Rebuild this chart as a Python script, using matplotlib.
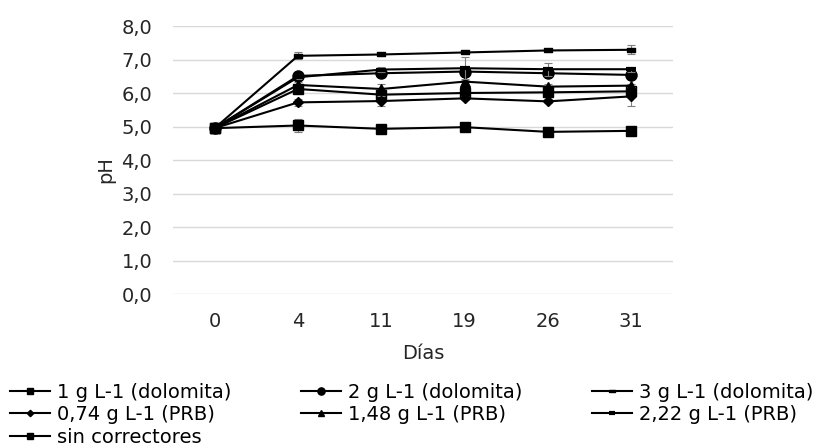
import matplotlib.pyplot as plt
import numpy as np

plt.rcParams['font.family'] = ['DejaVu Sans']

dias = ['0', '4', '11', '19', '26', '31']

dolomita_1 = [4.95, 6.12, 5.95, 6.00, 6.02, 6.05]
dolomita_2 = [4.95, 6.51, 6.59, 6.64, 6.59, 6.54]
dolomita_3 = [4.95, 7.11, 7.15, 7.21, 7.27, 7.29]
prb_074 = [4.95, 5.72, 5.76, 5.84, 5.75, 5.90]
prb_148 = [4.95, 6.24, 6.12, 6.34, 6.19, 6.22]
prb_222 = [4.95, 6.47, 6.70, 6.74, 6.71, 6.71]
sin_corr = [4.95, 5.03, 4.93, 4.98, 4.84, 4.87]

err_dol_1 = [0.03, 0.08, 0.06, 0.05, 0.05, 0.06]
err_dol_2 = [0.03, 0.08, 0.10, 0.10, 0.08, 0.08]
err_dol_3 = [0.03, 0.10, 0.05, 0.03, 0.04, 0.13]
err_074 = [0.03, 0.11, 0.14, 0.06, 0.06, 0.28]
err_148 = [0.03, 0.08, 0.14, 0.06, 0.08, 0.06]
err_222 = [0.03, 0.06, 0.08, 0.33, 0.20, 0.08]
err_sin = [0.03, 0.20, 0.05, 0.04, 0.05, 0.04]

# small flat bar used as marker for 3 g L-1 (dolomita)
flat = [(-1, -0.45), (1, -0.45), (1, 0.45), (-1, 0.45), (-1, -0.45)]

# name, values, errors, marker, size
series = [
    ('1 g L-1 (dolomita)', dolomita_1, err_dol_1, 's', 6.5),
    ('2 g L-1 (dolomita)', dolomita_2, err_dol_2, 'o', 8),
    ('3 g L-1 (dolomita)', dolomita_3, err_dol_3, flat, 6),
    ('0,74 g L-1 (PRB)', prb_074, err_074, 'D', 5),
    ('1,48 g L-1 (PRB)', prb_148, err_148, '^', 7.5),
    ('2,22 g L-1 (PRB)', prb_222, err_222, '_', 7),
    ('sin correctores', sin_corr, err_sin, 's', 7),
]

fig = plt.figure(figsize=(8.21, 4.46), dpi=100)
ax = fig.add_axes([0.2107, 0.3408, 0.609, 0.6009])

x = np.arange(len(dias))
handles = []
for name, vals, err, mk, ms in series:
    ax.errorbar(x, vals, yerr=err, fmt='none', ecolor='#7f7f7f',
                elinewidth=0.8, capsize=3, capthick=0.8)
    h, = ax.plot(x, vals, color='black', linewidth=1.5, marker=mk,
                 markersize=ms, markerfacecolor='black', markeredgecolor='black',
                 markeredgewidth=3 if mk == '_' else 1, label=name)
    handles.append(h)

ax.set_xlim(-0.5, len(dias) - 0.5)
ax.set_ylim(0, 8)
ax.set_xticks(x)
ax.set_xticklabels(dias)
ax.set_yticks(np.arange(0, 9, 1))
ax.yaxis.set_major_formatter(plt.FuncFormatter(lambda v, p: ('%.1f' % v).replace('.', ',')))
ax.tick_params(axis='both', length=0, labelsize=14, colors='#262626')
ax.tick_params(axis='x', pad=13)
ax.tick_params(axis='y', pad=15)
ax.grid(axis='y', color='#d9d9d9', linewidth=1)
ax.set_axisbelow(True)
for s in ax.spines.values():
    s.set_visible(False)

ax.set_xlabel('Días', fontsize=14, labelpad=9.5, color='#262626')
ax.set_ylabel('pH', fontsize=14, color='#262626')
ax.yaxis.set_label_coords(-0.116, 0.465)

# legend filled column by column, so reorder to read row by row
order = [0, 3, 6, 1, 4, 2, 5]
fig.legend([handles[i] for i in order], [series[i][0] for i in order],
           loc='upper left', bbox_to_anchor=(0.012, 0.142), ncol=3,
           frameon=False, fontsize=14, handlelength=2.05, handletextpad=0.36,
           columnspacing=3.6, labelspacing=0.18, borderaxespad=0, borderpad=0,
           markerscale=0.65)

fig.savefig('out.png', dpi=100)
